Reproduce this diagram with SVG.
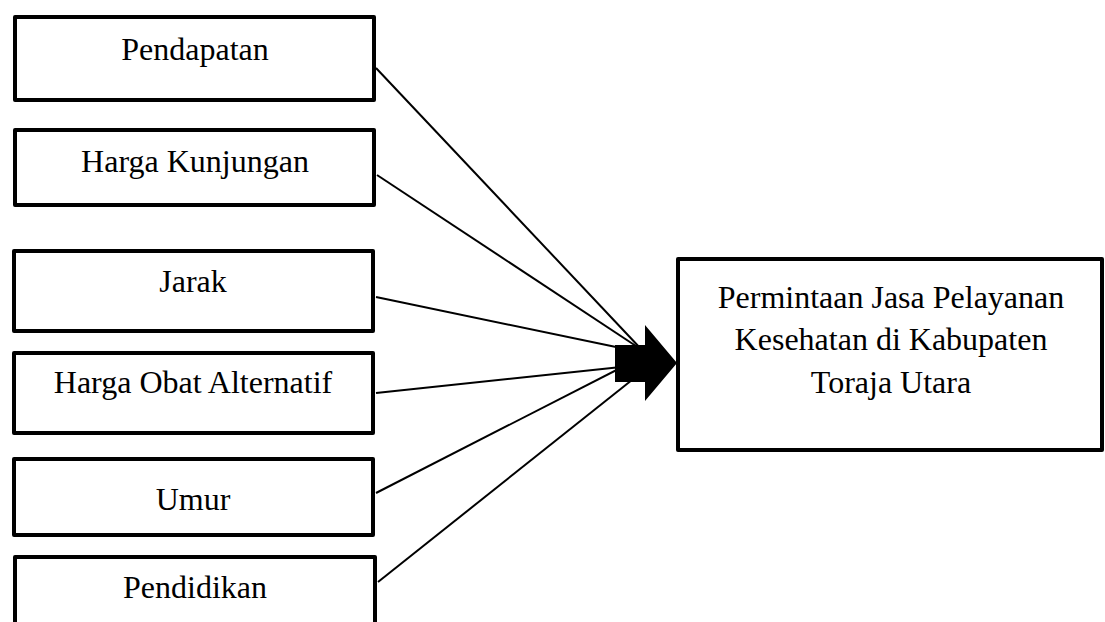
<svg xmlns="http://www.w3.org/2000/svg" width="1105" height="622" viewBox="0 0 1105 622">
<style>
.box{fill:#fff;stroke:#000;stroke-width:4;stroke-linejoin:round}
.lbl{font-family:"Liberation Serif","Times New Roman",serif;font-size:32px;fill:#000;text-anchor:middle}
.con{stroke:#000;stroke-width:2;fill:none}
</style>
<rect width="1105" height="622" fill="#fff"/>
<g id="connectors">
<line class="con" x1="376" y1="68" x2="642" y2="350"/>
<line class="con" x1="377" y1="175" x2="642" y2="350"/>
<line class="con" x1="376" y1="297" x2="640" y2="352"/>
<line class="con" x1="376" y1="393" x2="640" y2="365"/>
<line class="con" x1="376" y1="493" x2="640" y2="358"/>
<line class="con" x1="378" y1="582" x2="642" y2="372"/>
<polygon id="arrow" points="615,345 645,345 645,325 677,363 645,401 645,382 615,382" fill="#000"/>
</g>
<g id="n1"><rect class="box" x="15" y="17" width="359" height="83"/><text class="lbl" x="195" y="60">Pendapatan</text></g>
<g id="n2"><rect class="box" x="15" y="130" width="359" height="75"/><text class="lbl" x="195" y="172">Harga Kunjungan</text></g>
<g id="n3"><rect class="box" x="14" y="251" width="359" height="80"/><text class="lbl" x="193" y="292">Jarak</text></g>
<g id="n4"><rect class="box" x="14" y="353" width="359" height="80"/><text class="lbl" x="193" y="393">Harga Obat Alternatif</text></g>
<g id="n5"><rect class="box" x="14" y="459" width="359" height="76"/><text class="lbl" x="193" y="510">Umur</text></g>
<g id="n6"><rect class="box" x="15" y="557" width="360" height="100"/><text class="lbl" x="195" y="598">Pendidikan</text></g>
<g id="target"><rect class="box" x="678" y="259" width="424" height="191"/>
<text class="lbl" x="891" y="308">Permintaan Jasa Pelayanan</text>
<text class="lbl" x="891" y="350">Kesehatan di Kabupaten</text>
<text class="lbl" x="891" y="393">Toraja Utara</text></g>
</svg>
